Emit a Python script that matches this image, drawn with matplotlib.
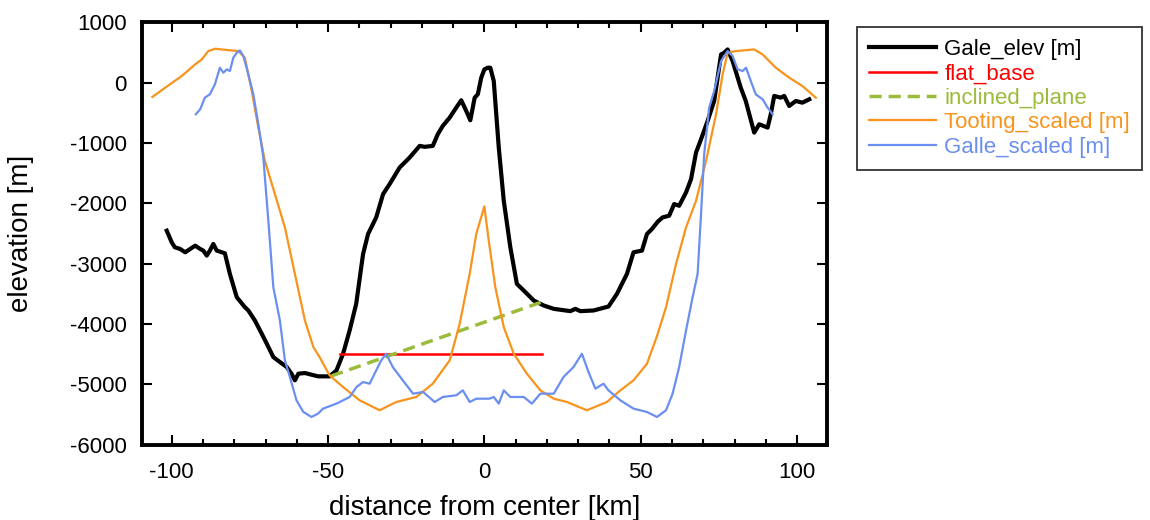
import numpy as np
import matplotlib.pyplot as plt
from matplotlib.ticker import MultipleLocator

plt.rcParams['font.family'] = ['Liberation Sans', 'DejaVu Sans']
plt.rcParams['axes.unicode_minus'] = False

# Gale_elev [m]
gale_x = [-101.6, -100, -99, -97.3, -95.7, -94.1, -92.5, -90.9, -89.9, -88.8, -87.8, -86.7,
          -85.6, -83, -81.4, -79.2, -76.6, -75.5, -73.4, -71.2, -69.6, -67.5, -65.4, -63.2,
          -61.7, -60.6, -59.5, -57.4, -53.2, -49.5, -47.3, -45.2, -43.1, -41, -38.8, -37.2,
          -34.6, -32.4, -30.3, -27.1, -23.9, -20.7, -19.1, -16.5, -14.9, -13.3, -11.1, -9,
          -7.4, -5.8, -4.5, -3.1, -2.1, -1, 0, 1.1, 1.9, 3, 4.6, 6.2, 8.3, 10.4, 12.6, 15.8,
          19, 22.2, 27.5, 29.1, 30.7, 34.9, 39.7, 42.4, 45.6, 47.7, 50.4, 52, 53.6, 55.5,
          57, 59.1, 60.7, 62.3, 64.5, 66.1, 67.7, 69.3, 71.4, 73.5, 75.7, 76.7, 77.8, 79.4,
          82, 83.6, 86.3, 87.9, 90.6, 91.6, 92.7, 94.8, 95.9, 97.5, 99.6, 101.7, 103.9]
gale_y = [-2452, -2645, -2727, -2755, -2810, -2755, -2700, -2755, -2782, -2865, -2782, -2672,
          -2782, -2826, -3168, -3554, -3719, -3774, -3940, -4160, -4325, -4546, -4628, -4711,
          -4821, -4931, -4821, -4810, -4865, -4865, -4766, -4491, -4105, -3664, -2838, -2507,
          -2232, -1846, -1680, -1405, -1240, -1047, -1063, -1047, -854, -716, -579, -413,
          -292, -468, -623, -248, -193, 83, 220, 248, 248, 28, -1074, -1956, -2727, -3334,
          -3444, -3609, -3692, -3747, -3785, -3747, -3785, -3774, -3708, -3499, -3168, -2810,
          -2782, -2507, -2424, -2300, -2232, -2204, -2011, -2039, -1818, -1598, -1157, -937,
          -634, -303, 468, 496, 551, 358, -83, -303, -827, -689, -744, -523, -220, -248,
          -220, -386, -303, -331, -276]

# flat_base
flat_x = [-46.3, 18.4]
flat_y = [-4500, -4500]

# inclined_plane
incl_x = [-49, 18]
incl_y = [-4860, -3640]

# Tooting_scaled [m]
toot_x = [-106.2, -102.1, -96.8, -92.5, -90.4, -88.3, -86.2, -83, -78.7, -76.6, -74.4,
          -72.3, -70.2, -67, -63.8, -60.6, -57.4, -54.7, -52.7, -49.5, -45.2, -39.9, -33.5,
          -28.2, -21.8, -16.5, -11.1, -7.9, -4.7, -2.6, 0, 1.4, 3.5, 6.2, 9.4, 13.6, 17.9,
          22.2, 26.4, 32.8, 39.2, 43.5, 47.7, 52, 55.2, 58.1, 61.3, 64.5, 67.7, 70.9, 74.1,
          76.2, 77.8, 80.4, 86.3, 89, 93.2, 97.5, 101.7, 106]
toot_y = [-237, -83, 110, 303, 386, 523, 562, 545, 523, 413, -138, -744, -1295, -1846,
          -2397, -3168, -3940, -4380, -4546, -4849, -5042, -5262, -5427, -5290, -5207, -4987,
          -4601, -3995, -3168, -2507, -2050, -2617, -3389, -4050, -4491, -4821, -5097, -5235,
          -5290, -5427, -5290, -5097, -4931, -4656, -4200, -3719, -3003, -2397, -1956, -1295,
          -523, 138, 496, 523, 551, 468, 248, 83, -55, -248]

# Galle_scaled [m]
galle_x = [-92.3, -90.9, -89.4, -87.8, -86.2, -84.6, -83.5, -82.4, -81.4, -80.3, -79.2,
           -78.2, -77.1, -75.5, -73.9, -72.3, -70.7, -69.1, -67.5, -65.4, -63.8, -62.2,
           -60.1, -57.9, -55.3, -53.2, -51.6, -47.3, -43.1, -40.9, -38.8, -36.7, -34.6, -33,
           -31.4, -29.3, -26.1, -22.8, -19.6, -15.9, -13.3, -9, -6.9, -4.7, -2.6, 1.6, 3,
           4.6, 6.2, 8.3, 12.6, 15.2, 17.9, 22.2, 25.3, 28.5, 31.2, 33.3, 35.5, 38.1, 39.7,
           43.5, 47.7, 52, 55.2, 58.1, 60.2, 62.3, 64.5, 66.6, 68.2, 69.3, 70.3, 71.9, 73.5,
           75.7, 77.8, 79.4, 81, 82.6, 83.7, 85.2, 86.8, 89, 90.6, 92.2]
galle_y = [-523, -441, -248, -193, -28, 248, 165, 220, 193, 413, 496, 534, 441, 138, -193,
           -689, -1240, -2287, -3389, -3940, -4601, -4876, -5262, -5455, -5538, -5483, -5400,
           -5317, -5207, -5042, -4959, -4987, -4766, -4601, -4491, -4711, -4931, -5152, -5124,
           -5290, -5207, -5179, -5097, -5290, -5235, -5235, -5207, -5317, -5097, -5207, -5207,
           -5317, -5152, -5152, -4876, -4711, -4491, -4793, -5069, -4987, -5097, -5262, -5400,
           -5455, -5538, -5427, -5152, -4711, -4105, -3554, -3168, -2177, -1185, -413, -138,
           358, 523, 441, 220, 193, 248, 28, -193, -276, -413, -523]

fig = plt.figure(figsize=(11.5, 5.2), dpi=100)
ax = fig.add_axes([0.1235, 0.1445, 0.5954, 0.8126])

ax.plot(gale_x, gale_y, color='black', lw=3.0, label='Gale_elev [m]')
ax.plot(flat_x, flat_y, color='#ff0000', lw=1.8, label='flat_base')
ax.plot(incl_x, incl_y, color='#9bbb3b', lw=2.5, ls=(0, (3.5, 2)), label='inclined_plane')
ax.plot(toot_x, toot_y, color='#f7941d', lw=1.6, label='Tooting_scaled [m]')
ax.plot(galle_x, galle_y, color='#6a8ff0', lw=1.6, label='Galle_scaled [m]')

ax.set_xlim(-109.5, 109.5)
ax.set_ylim(-6000, 1000)
ax.xaxis.set_major_locator(MultipleLocator(50))
ax.xaxis.set_minor_locator(MultipleLocator(10))
ax.yaxis.set_major_locator(MultipleLocator(1000))
ax.tick_params(which='both', direction='in', top=True, right=True, width=1.5,
               labelsize=16)
ax.tick_params(axis='x', which='both', pad=12)
ax.tick_params(axis='y', which='both', pad=11)
ax.tick_params(which='major', length=7.5)
ax.tick_params(which='minor', length=4)
for s in ax.spines.values():
    s.set_linewidth(2.8)

ax.set_xlabel('distance from center [km]', fontsize=20, labelpad=9)
ax.set_ylabel('elevation [m]', fontsize=20, labelpad=26)

leg = ax.legend(loc='upper left', bbox_to_anchor=(0.7452, 0.948),
                bbox_transform=fig.transFigure, borderaxespad=0, fontsize=16,
                frameon=True, fancybox=False, handlelength=3.0, handletextpad=0.38,
                labelspacing=0.15, borderpad=0.55)
leg.get_frame().set_edgecolor('black')
leg.get_frame().set_linewidth(1.3)
for txt, line in zip(leg.get_texts(), leg.get_lines()):
    txt.set_color(line.get_color())

fig.savefig('out.png', dpi=100)
